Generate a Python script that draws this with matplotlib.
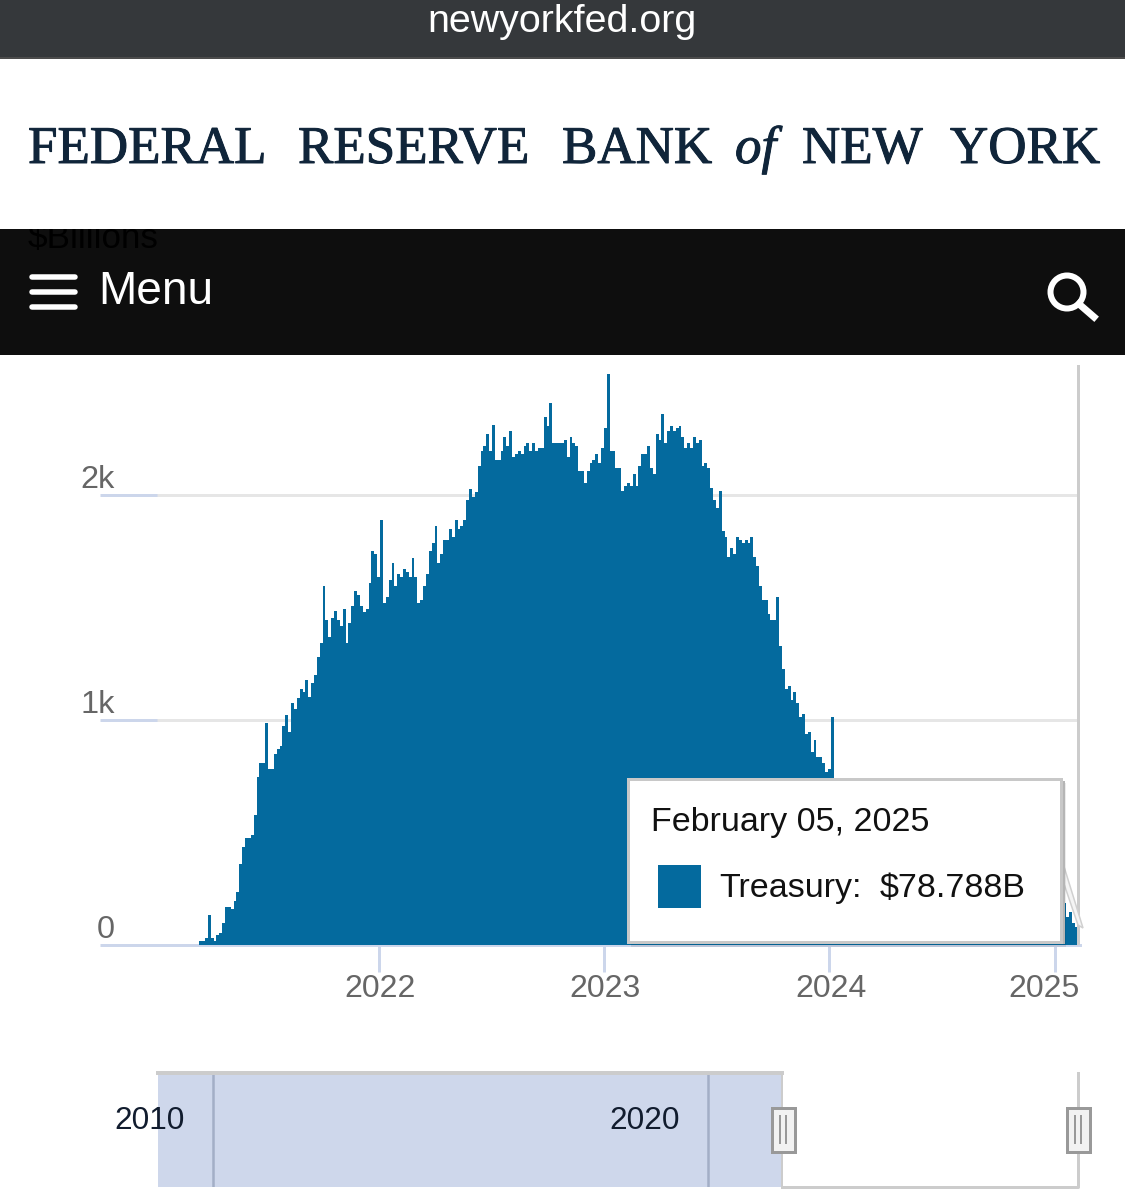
import numpy as np
import pandas as pd
import matplotlib
matplotlib.use("Agg")
import matplotlib.pyplot as plt
import matplotlib.dates as mdates
import matplotlib.patheffects as pe
from matplotlib.patches import Rectangle, Circle, Polygon

# ---- data ($ billions) ----
first_date = "2021-03-17"
last_date = "2025-02-05"
treasury_rise = [18, 18, 32, 134, 32, 20, 43, 55, 96, 171, 171, 159, 197, 236, 362, 438, 478, 478, 491, 580,
    747, 810, 810, 987, 784, 784, 849, 871, 885, 975, 1024, 949, 1075, 1052, 1101, 1138, 1126, 1178, 1103, 1166,
    1203, 1280, 1343, 1598, 1445, 1370, 1457, 1484, 1445, 1421, 1496, 1343, 1433, 1510, 1573, 1559, 1510, 1482,
    1493, 1610, 1751, 1738, 1636, 1891, 1523, 1547, 1624, 1699, 1596, 1649, 1636, 1673, 1661, 1636, 1724, 1636,
    1523, 1533, 1596, 1649, 1751, 1789, 1866, 1699, 1738, 1803, 1803, 1852, 1815, 1889, 1852, 1866, 1889, 1980,
    2029, 1992, 2017, 2133, 2196, 2220, 2273, 2196, 2312, 2158, 2158, 2196, 2259, 2222]
treasury_peak = [2286, 2171, 2185, 2197, 2185, 2222, 2235, 2198, 2235, 2198, 2210, 2210, 2349, 2311, 2413,
    2235, 2235, 2235, 2235, 2247, 2171, 2259, 2235, 2222, 2108, 2108, 2057, 2108, 2146, 2158, 2185, 2146, 2210,
    2299, 2541, 2197, 2197, 2121, 2121, 2019, 2044, 2057, 2044, 2094, 2044, 2133, 2185, 2185, 2222, 2121, 2096,
    2274, 2247, 2363, 2235, 2286, 2311, 2286, 2299, 2311, 2260, 2210, 2235, 2210, 2260, 2235, 2247, 2133, 2146,
    2121, 2032, 1981, 1943, 2019, 1841, 1815, 1726, 1765, 1738, 1815, 1802, 1790, 1802, 1790, 1815, 1726,
    1688, 1597, 1536, 1536, 1471, 1447, 1447, 1548, 1332, 1229, 1140, 1152, 1090, 1127, 1078, 1013, 1026,
    937, 949, 860, 912, 835, 835, 810, 771, 783, 1013]
treasury_hidden = [720, 705, 712, 690, 668, 676, 650, 640, 655, 625, 610, 618, 597, 585, 602, 570, 560, 575,
    548, 535, 552, 520, 512, 525, 500, 490, 505, 478, 470, 482, 455, 448, 462, 436, 428, 440, 415, 408, 420, 396,
    390, 402, 378, 370, 384, 360, 352, 366, 342, 335, 348, 325, 318, 330, 308, 300, 312, 290, 284, 296, 275, 268,
    280, 260, 252, 264, 245, 238, 250, 232, 225, 236, 218, 212, 224, 206, 196]
treasury_tail = [187, 187, 187, 187, 126, 148, 98, 78.788]
treasury = treasury_rise + treasury_peak + treasury_hidden + treasury_tail

y_ticks = [0, 1000, 2000]
y_tick_labels = ["0", "1k", "2k"]
x_tick_dates = ["2022-01-01", "2023-01-01", "2024-01-01", "2025-01-01"]
x_tick_labels = ["2022", "2023", "2024", "2025"]
nav_ticks = [2010, 2020]
nav_tick_labels = ["2010", "2020"]
nav_selected_end = 2021.5

BLUE = "#046a9e"
W, H = 1125, 1200
BASE = ["Liberation Sans", "DejaVu Sans"]
plt.rcParams["font.family"] = BASE


def px(v):
    return v * 72 / 100


fig = plt.figure(figsize=(W / 100, H / 100), dpi=100, facecolor="white")


def axes_px(x0, y0, x1, y1, **kw):
    return fig.add_axes([x0 / W, 1 - y1 / H, (x1 - x0) / W, (y1 - y0) / H], **kw)


# ---- main chart ----
ax = axes_px(157, 365, 1080, 945)
dates = pd.date_range(first_date, last_date, periods=len(treasury))
xnum = mdates.date2num(dates)
per_px = (mdates.date2num(pd.Timestamp("2025-01-01")) - mdates.date2num(pd.Timestamp("2022-01-01"))) / (1054.7 - 379.3)
x0 = mdates.date2num(pd.Timestamp("2022-01-01")) - (379.3 - 157) * per_px
ax.set_xlim(x0, x0 + (1080 - 157) * per_px)
ax.set_ylim(0, 580 * 2000 / 449.5)
step = xnum[1] - xnum[0]
ax.bar(xnum, treasury, width=step, color=BLUE, linewidth=0, zorder=3)
for s in ["top", "right", "left"]:
    ax.spines[s].set_visible(False)
ax.spines["bottom"].set_color("#ccd6eb")
ax.spines["bottom"].set_linewidth(px(3))
ax.set_yticks(y_ticks)
ax.set_yticklabels([])
ax.tick_params(axis="y", length=px(57), width=px(3), color="#ccd6eb", direction="out")
ax.grid(axis="y", color="#e6e6e6", linewidth=px(3), zorder=1)
tick_nums = mdates.date2num(pd.to_datetime(x_tick_dates))
ax.set_xticks(tick_nums)
ax.set_xticklabels([])
ax.tick_params(axis="x", length=px(27), width=px(3), color="#ccd6eb", direction="out")
ax.axvline(xnum[-1] + step / 2 + 0.5 * per_px, color="#cccccc", linewidth=px(3), zorder=4)
for v, lab in zip(y_ticks, y_tick_labels):
    ax.annotate(lab, (0, v), xycoords=ax.get_yaxis_transform(), xytext=(-42, 15), textcoords="offset pixels",
                ha="right", va="center", fontsize=px(32.5), color="#666666", annotation_clip=False)
label_shift = [1, 1, 2, -11]
for t, lab, dx in zip(tick_nums, x_tick_labels, label_shift):
    ax.annotate(lab, (t, 0), xycoords=ax.get_xaxis_transform(), xytext=(dx, -44), textcoords="offset pixels",
                ha="center", va="center", fontsize=px(32), color="#666666", annotation_clip=False)

# ---- navigator ----
nav = axes_px(157.5, 1073, 1078, 1187)
nav_px_per_year = (708 - 213) / (nav_ticks[1] - nav_ticks[0])
nav_left = nav_ticks[0] - (213 - 157.5) / nav_px_per_year
nav.set_xlim(nav_left, nav_left + (1078 - 157.5) / nav_px_per_year)
nav.set_ylim(0, 1)
nav.axvspan(nav_left, nav_selected_end, color="#ced7eb", linewidth=0, zorder=1)
nav.set_yticks([])
nav.set_xticks(nav_ticks)
nav.set_xticklabels([])
nav.tick_params(axis="x", length=0)
nav.grid(axis="x", color="#a3aec6", linewidth=px(2.5), zorder=2)
for s in nav.spines.values():
    s.set_visible(False)
nav.plot([nav_left, nav_selected_end], [1, 1], color="#cccccc", lw=px(4), clip_on=False, zorder=3)
nav.plot([nav_selected_end, nav.get_xlim()[1], nav.get_xlim()[1]], [0, 0, 1], color="#cccccc", lw=px(3),
         clip_on=False, zorder=3)
nav.plot([nav_selected_end, nav_selected_end], [0, 1], color="#cccccc", lw=px(2), zorder=3)
for v, lab in zip(nav_ticks, nav_tick_labels):
    nav.annotate(lab, (v, 0.58), xycoords=("data", "axes fraction"), xytext=(-63, 0), textcoords="offset pixels",
                 ha="center", va="center", fontsize=px(31.5), color="#111c2e", zorder=5, annotation_clip=False)

# ---- page chrome and tooltip, in picture pixels ----
ov = fig.add_axes([0, 0, 1, 1], zorder=10)
ov.set_xlim(0, W)
ov.set_ylim(H, 0)
ov.axis("off")
ov.patch.set_alpha(0)

# nav bar with the hidden axis title
ov.add_patch(Rectangle((0, 229), W, 126, color="#0e0e0e", lw=0, zorder=1))
ov.text(28, 239, "$Billions", fontsize=px(35), color="#000000", ha="left", va="center", zorder=2)
ov.add_patch(Rectangle((0, 58), W, 171, color="white", lw=0, zorder=3))
ov.add_patch(Rectangle((0, 0), W, 57, color="#35383b", lw=0, zorder=4))
ov.plot([0, W], [57.5, 57.5], color="#111111", lw=px(1.5), zorder=4)
ov.text(562, 22, "newyorkfed.org", fontsize=px(39.4), color="white", ha="center", va="center", zorder=5)

words = ["FEDERAL", "RESERVE", "BANK", "of", "NEW", "YORK"]
word_x = [28, 298, 562, 735, 802, 950]
for w, x in zip(words, word_x):
    t = ov.text(x, 163, w, fontsize=px(53), color="#10253a", ha="left", va="baseline", zorder=5,
                family=["Liberation Serif", "DejaVu Serif"], style="italic" if w == "of" else "normal")
    t.set_path_effects([pe.withStroke(linewidth=0.7, foreground="#10253a")])

for y in [277, 292, 307]:
    ov.plot([31.5, 74.5], [y, y], color="white", lw=px(5.5), solid_capstyle="round", zorder=5)
ov.text(98, 292, "Menu", fontsize=px(46), color="white", ha="left", va="center", zorder=5)
ov.add_patch(Circle((1067, 292), 16.5, fill=False, ec="white", lw=px(6), zorder=5))
ov.plot([1079, 1094], [304, 317], color="white", lw=px(7), zorder=5)

# navigator handles
for x in [783, 1078]:
    ov.add_patch(Rectangle((x - 11.5, 1107.5), 23, 44, fc="#f2f2f2", ec="#999999", lw=px(3), zorder=6))
    for dx in [-3, 3]:
        ov.plot([x + dx, x + dx], [1116, 1143], color="#999999", lw=px(2), zorder=7)

# tooltip
ov.add_patch(Polygon([[1062, 860], [1083, 928], [1078, 925], [1062, 878]], fc="#f4f4f4", ec="#d0d0d0", lw=px(1.5), zorder=5))
ov.add_patch(Rectangle((631, 783), 435, 164, fc="#000000", alpha=0.08, lw=0, zorder=5))
ov.add_patch(Rectangle((630, 781), 435, 163, fc="#b5b5b5", lw=0, zorder=6))
ov.add_patch(Rectangle((628, 779), 433, 163, fc="white", ec="#c8c8c8", lw=px(3), zorder=7))
ov.text(651, 831, "February 05, 2025", fontsize=px(34), color="#111111", ha="left", va="baseline", zorder=8)
ov.add_patch(Rectangle((658, 865), 43, 43, fc=BLUE, lw=0, zorder=8))
ov.text(719, 897, "Treasury:", fontsize=px(34), color="#111111", ha="left", va="baseline", zorder=8)
ov.text(880, 897, "$78.788B", fontsize=px(34), color="#111111", ha="left", va="baseline", zorder=8)

fig.savefig("out.png", dpi=100, facecolor="white")
